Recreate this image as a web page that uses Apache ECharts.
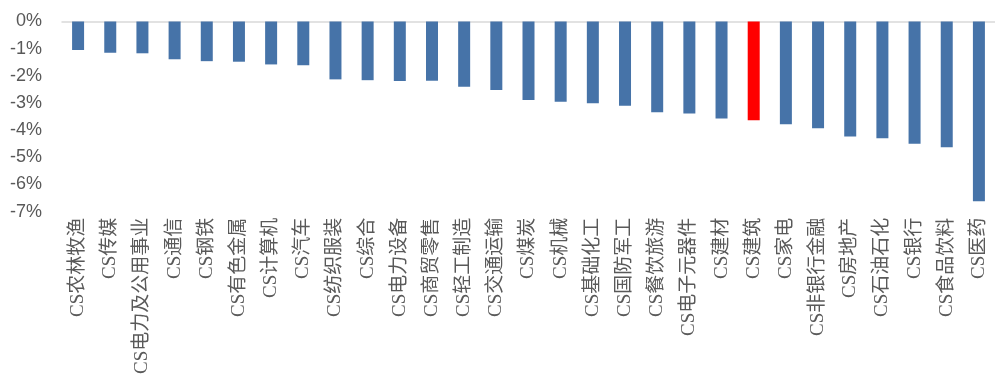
<!DOCTYPE html>
<html>
<head>
<meta charset="utf-8">
<script src="https://cdn.jsdelivr.net/npm/echarts@6/dist/echarts.min.js"></script>
<style>html,body{margin:0;padding:0;background:#fff}#c{width:995px;height:388px}</style>
</head>
<body>
<div id="c"></div>
<script>
const categories = ['CS农林牧渔','CS传媒','CS电力及公用事业','CS通信','CS钢铁','CS有色金属','CS计算机','CS汽车','CS纺织服装','CS综合','CS电力设备','CS商贸零售','CS轻工制造','CS交通运输','CS煤炭','CS机械','CS基础化工','CS国防军工','CS餐饮旅游','CS电子元器件','CS建材','CS建筑','CS家电','CS非银行金融','CS房地产','CS石油石化','CS银行','CS食品饮料','CS医药'];
const values = [-1.05,-1.15,-1.17,-1.39,-1.46,-1.48,-1.58,-1.61,-2.13,-2.16,-2.19,-2.18,-2.40,-2.52,-2.89,-2.95,-3.01,-3.10,-3.34,-3.39,-3.57,-3.63,-3.78,-3.93,-4.23,-4.30,-4.50,-4.63,-6.62];
const highlight = 'CS建筑';
const yTicks = {min: -7, max: 0, interval: 1};

const chart = echarts.init(document.getElementById('c'), null, {renderer: 'canvas'});
chart.setOption({
  animation: false,
  backgroundColor: '#ffffff',
  grid: {left: 62, top: 21.5, width: 940, bottom: 176.3, containLabel: false},
  xAxis: [{
    type: 'category',
    data: categories,
    position: 'bottom',
    axisLine: {show: false, onZero: false},
    axisTick: {show: false},
    axisLabel: {
      rotate: 90, interval: 0, margin: 6,
      color: '#595959', fontSize: 19,
      fontFamily: '"Liberation Serif", "Noto Sans CJK SC", serif'
    }
  }, {
    type: 'category',
    data: categories,
    position: 'top',
    axisLine: {show: true, onZero: false, lineStyle: {color: '#d9d9d9', width: 1.5}},
    axisTick: {show: false},
    axisLabel: {show: false}
  }],
  yAxis: {
    type: 'value',
    min: yTicks.min, max: yTicks.max, interval: yTicks.interval,
    axisLine: {show: false},
    axisTick: {show: false},
    splitLine: {show: false},
    axisLabel: {
      margin: 20, color: '#595959', fontSize: 18,
      fontFamily: '"Liberation Sans", Arial, sans-serif',
      formatter: v => Math.round(v) + '%'
    }
  },
  series: [{
    type: 'bar',
    xAxisIndex: 0,
    barWidth: 12,
    data: values.map((v, i) => ({
      value: v,
      itemStyle: {color: categories[i] === highlight ? '#ff0000' : '#4673a8'}
    }))
  }]
});
</script>
</body>
</html>
